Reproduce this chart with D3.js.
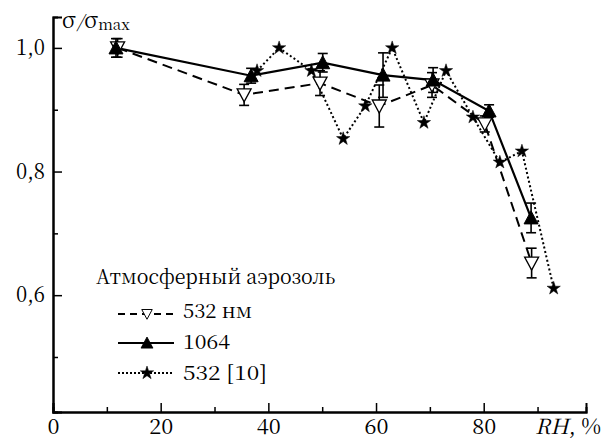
<!DOCTYPE html>
<html><head><meta charset="utf-8">
<script src="https://cdn.jsdelivr.net/npm/d3@7"></script>
<style>body{margin:0;background:#fff}svg{display:block}</style>
</head><body>
<svg id="c" width="603" height="441"></svg>
<script>
const rh1064 = [11.7, 36.8, 50.1, 61.3, 70.6, 81.0, 88.8];
const val1064 = [1.0, 0.955, 0.976, 0.956, 0.948, 0.898, 0.725];
const err1064 = [0.015, 0.012, 0.015, 0.036, 0.02, 0.01, 0.024];

const rh532 = [12.0, 35.5, 49.6, 60.6, 70.4, 80.2, 88.9];
const val532 = [1.0, 0.924, 0.943, 0.906, 0.94, 0.877, 0.652];
const err532 = [0.015, 0.017, 0.02, 0.034, 0.02, 0.013, 0.024];

const rhRef = [37.9, 42.0, 48.0, 53.9, 58.0, 63.0, 68.9, 73.0, 78.0, 83.0, 87.1, 93.0];
const valRef = [0.963, 1.0, 0.963, 0.853, 0.906, 1.0, 0.879, 0.963, 0.888, 0.815, 0.833, 0.611];

const xMajor = [0, 20, 40, 60, 80];
const xMinor = [10, 30, 50, 70, 90];
const yMajor = [0.6, 0.8, 1.0];
const yMinor = [0.5, 0.7, 0.9];

const legendTitle = "Атмосферный аэрозоль";
const legendLabels = ["532 нм", "1064", "532 [10]"];

const FONT = '"Noto Serif CJK SC", "Liberation Serif"';
const svg = d3.select("#c");
const x = d3.scaleLinear().domain([0, 99]).range([53, 586]);
const y = d3.scaleLinear().domain([0.411, 1.05]).range([412, 17]);
const fmt = d => d3.format(".1f")(d).replace(".", ",");

// axes
const gx = svg.append("g").attr("transform", "translate(0,412)");
gx.call(d3.axisBottom(x).tickValues(xMajor).tickSize(-9).tickFormat(d3.format("d")));
const gxm = svg.append("g").attr("transform", "translate(0,412)");
gxm.call(d3.axisBottom(x).tickValues(xMinor).tickSize(-5).tickFormat(""));
const gy = svg.append("g").attr("transform", "translate(53,0)");
gy.call(d3.axisLeft(y).tickValues(yMajor).tickSize(-9).tickFormat(fmt).tickPadding(8));
const gym = svg.append("g").attr("transform", "translate(53,0)");
gym.call(d3.axisLeft(y).tickValues(yMinor).tickSize(-5).tickFormat(""));
svg.selectAll(".domain").attr("stroke", "#000").attr("stroke-width", 2);
svg.selectAll(".tick line").attr("stroke", "#000").attr("stroke-width", 1.5);
gx.selectAll(".tick text").style("font-family", FONT).attr("font-size", 21).attr("y", 22).attr("dy", 0)
  .attr("textLength", d => d === 0 ? 12 : 24).attr("lengthAdjust", "spacingAndGlyphs");
gy.selectAll(".tick text").style("font-family", FONT).attr("font-size", 22).attr("dy", "0.3em")
  .attr("textLength", 29).attr("lengthAdjust", "spacingAndGlyphs");

// axis titles
const yl = svg.append("text").attr("x", 62).attr("y", 28).attr("font-size", 22).style("font-family", FONT);
yl.append("tspan").text("σ");
yl.append("tspan").text("/").attr("dx", 1).attr("font-size", 18).attr("font-style", "italic");
yl.append("tspan").text("σ").attr("dx", 1);
yl.append("tspan").text("max").attr("font-size", 15).attr("dy", 2);
const xl = svg.append("text").attr("x", 535).attr("y", 434).attr("font-size", 21).style("font-family", FONT)
  .attr("textLength", 66).attr("lengthAdjust", "spacingAndGlyphs");
xl.append("tspan").text("RH").attr("font-style", "italic");
xl.append("tspan").text(", %");

// lines
const line = d3.line().x(d => x(d[0])).y(d => y(d[1]));
const pts = (xs, ys) => xs.map((v, i) => [v, ys[i]]);
svg.append("path").datum(pts(rh532, val532)).attr("d", line)
  .attr("fill", "none").attr("stroke", "#000").attr("stroke-width", 2).attr("stroke-dasharray", "10,6");
svg.append("path").datum(pts(rh1064, val1064)).attr("d", line)
  .attr("fill", "none").attr("stroke", "#000").attr("stroke-width", 2.2);
svg.append("path").datum(pts(rhRef, valRef)).attr("d", line)
  .attr("fill", "none").attr("stroke", "#000").attr("stroke-width", 2).attr("stroke-dasharray", "2,2.5");

// error bars
function errBars(xs, ys, es) {
  const g = svg.append("g").attr("stroke", "#000").attr("stroke-width", 1.6);
  xs.forEach((v, i) => {
    const cx = x(v), t = y(ys[i] + es[i]), b = y(ys[i] - es[i]);
    g.append("line").attr("x1", cx).attr("x2", cx).attr("y1", t).attr("y2", b);
    g.append("line").attr("x1", cx - 5).attr("x2", cx + 5).attr("y1", t).attr("y2", t);
    g.append("line").attr("x1", cx - 5).attr("x2", cx + 5).attr("y1", b).attr("y2", b);
  });
}
errBars(rh532, val532, err532);
errBars(rh1064, val1064, err1064);

// markers
const triDown = "M-7,-6L7,-6L0,7Z";
const triUp = "M-7,6L7,6L0,-7Z";
const star = d3.symbol().type(d3.symbolStar).size(55)();
function markers(xs, ys, path, fill, sw) {
  svg.append("g").selectAll("path").data(pts(xs, ys)).join("path")
    .attr("d", path).attr("transform", d => `translate(${x(d[0])},${y(d[1])})`)
    .attr("fill", fill).attr("stroke", "#000").attr("stroke-width", sw);
}
markers(rh532, val532, triDown, "#fff", 1.3);
markers(rh1064, val1064, triUp, "#000", 1);
markers(rhRef, valRef, star, "#000", 0.5);

// legend
svg.append("text").attr("x", 96).attr("y", 284).attr("font-size", 20).style("font-family", FONT)
  .attr("textLength", 239).attr("lengthAdjust", "spacingAndGlyphs").text(legendTitle);
const leg = [
  {y: 314, base: 318, w: 69, dash: "7,5", sym: triDown, fill: "#fff", sw: 1.3, scale: 0.75},
  {y: 343, base: 349, w: 47, dash: null, sym: triUp, fill: "#000", sw: 1, scale: 0.85},
  {y: 373, base: 380, w: 84, dash: "2,2", sym: star, fill: "#000", sw: 0.5, scale: 1}
];
leg.forEach((l, i) => {
  svg.append("line").attr("x1", 118).attr("x2", 174).attr("y1", l.y).attr("y2", l.y)
    .attr("stroke", "#000").attr("stroke-width", i === 1 ? 2.2 : 2).attr("stroke-dasharray", l.dash);
  svg.append("path").attr("d", l.sym).attr("transform", `translate(147,${l.y}) scale(${l.scale})`)
    .attr("fill", l.fill).attr("stroke", "#000").attr("stroke-width", l.sw);
  svg.append("text").attr("x", 183).attr("y", l.base).attr("font-size", 20).style("font-family", FONT)
    .attr("textLength", l.w).attr("lengthAdjust", "spacingAndGlyphs").text(legendLabels[i]);
});
</script>
</body></html>
